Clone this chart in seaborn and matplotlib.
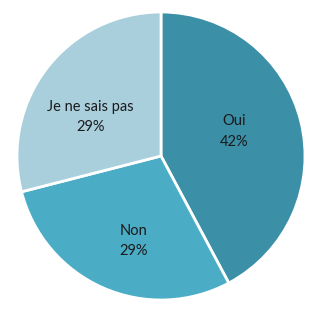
import matplotlib
matplotlib.use("Agg")
import matplotlib.pyplot as plt
import seaborn as sns

labels = ["Oui", "Non", "Je ne sais pas"]
values = [42.2, 28.8, 29.0]
pct_labels = ["42%", "29%", "29%"]
colors = ["#3B8FA6", "#4BACC6", "#A9CFDD"]

sns.set_theme(style="white")
plt.rcParams['font.family'] = ['Lato', 'DejaVu Sans']

fig = plt.figure(figsize=(3.2, 3.1), dpi=100)
ax = fig.add_axes([17/320, 10/310, 288/320, 288/310])
texts = [f"{l}\n{p}" for l, p in zip(labels, pct_labels)]
wedges, txts = ax.pie(values, labels=texts, colors=colors, startangle=90,
                      counterclock=False, labeldistance=0.57,
                      wedgeprops=dict(edgecolor="white", linewidth=2),
                      textprops=dict(fontsize=10.5, color="#1b1b1b",
                                     ha="center", va="center", linespacing=1.6))
# Excel-style label placement (style only)
label_pos = [(0.51, 0.17), (-0.19, -0.59), (-0.49, 0.27)]
for t, p in zip(txts, label_pos):
    t.set_position(p)
ax.set_xlim(-1.0, 1.0)
ax.set_ylim(-1.0, 1.0)
ax.set_aspect("equal")
fig.savefig("out.png", dpi=100, facecolor="white")
